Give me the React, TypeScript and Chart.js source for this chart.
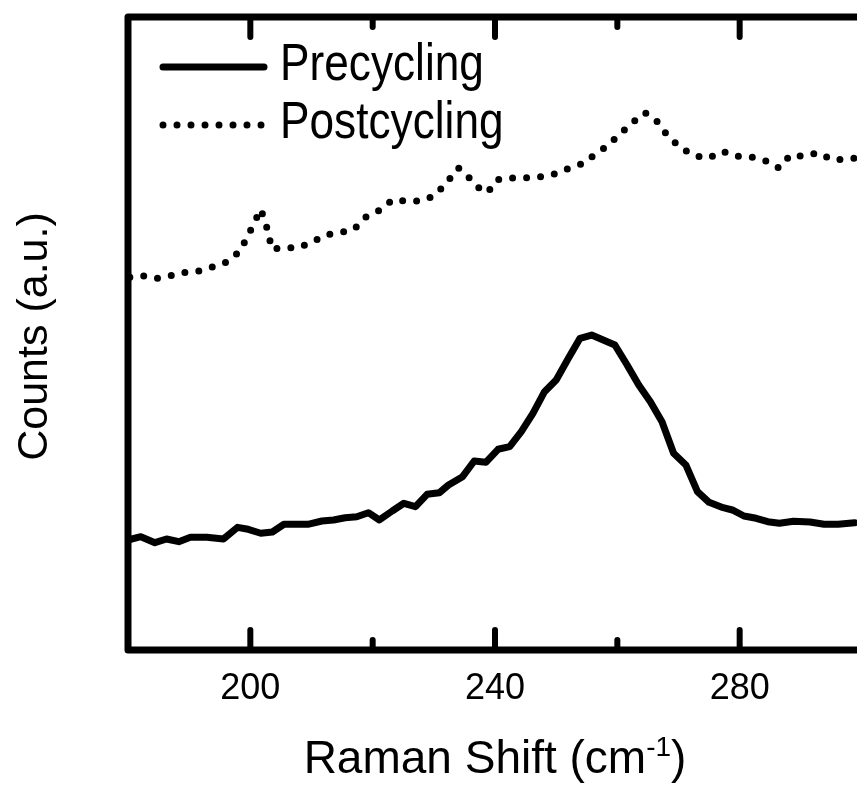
import React, { useEffect, useRef } from "react";
import { Chart, registerables } from "chart.js";

Chart.register(...registerables);

// ---- data (Raman shift in cm^-1, counts in arbitrary units) ----
const preX = [
  180.0, 182.1, 184.4, 186.3, 188.3, 190.2, 192.9, 195.6, 197.9, 199.4,
  201.7, 203.6, 205.5, 209.4, 211.7, 213.6, 215.5, 217.4, 219.3, 221.1,
  223.2, 225.1, 227.0, 228.9, 230.9, 232.4, 234.7, 236.6, 238.5, 240.5,
  242.4, 244.3, 246.2, 248.1, 250.0, 252.0, 253.9, 255.8, 257.7, 259.6,
  261.6, 263.5, 265.4, 267.3, 269.2, 271.2, 273.1, 275.0, 277.3, 278.8,
  280.7, 282.7, 284.6, 286.5, 288.8, 291.5, 293.8, 296.1, 298.8,
];
const preY = [
  173.8, 179.0, 169.5, 175.4, 171.1, 178.0, 178.0, 175.4, 193.8, 191.2,
  184.4, 186.4, 198.6, 198.6, 203.8, 205.4, 209.0, 210.6, 216.9, 205.4,
  219.6, 231.8, 226.4, 246.0, 248.5, 260.7, 273.8, 298.6, 296.5, 317.1,
  321.2, 344.9, 373.9, 408.1, 426.5, 460.8, 492.4, 497.6, 489.7, 481.8,
  450.2, 418.6, 392.3, 360.7, 310.7, 292.3, 250.1, 233.3, 224.8, 221.2,
  211.7, 208.1, 202.7, 200.2, 203.3, 202.2, 198.6, 198.6, 201.1,
];
const postX = [
  180.3, 182.4, 184.7, 187.0, 189.4, 191.6, 194.0, 196.2, 198.2, 199.4,
  200.6, 201.7, 202.4, 203.0, 203.5, 205.4, 207.7, 209.9, 212.4, 214.6,
  216.9, 218.8, 221.0, 223.3, 225.6, 228.0, 230.1, 231.9, 234.0, 235.2,
  237.2, 238.8, 240.2, 242.4, 244.8, 247.3, 249.7, 252.2, 254.6, 256.2,
  258.2, 260.4, 262.5, 264.5, 266.3, 268.0, 270.2, 272.6, 274.9, 277.2,
  279.5, 281.7, 284.1, 286.4, 288.3, 290.6, 292.8, 295.2, 297.4, 299.0,
];
const postY = [
  588.8, 591.3, 587.2, 591.3, 596.7, 598.7, 605.5, 613.0, 629.2, 650.4,
  674.1, 696.2, 677.7, 656.7, 633.0, 635.6, 635.1, 643.4, 656.1, 659.2,
  664.0, 683.6, 694.0, 711.4, 708.8, 709.8, 717.7, 736.2, 761.5, 752.0,
  731.0, 722.4, 742.5, 745.7, 745.7, 747.2, 752.0, 761.5, 769.4, 782.0,
  795.1, 814.7, 833.6, 848.8, 837.3, 815.2, 794.2, 780.9, 776.8, 787.8,
  779.9, 779.3, 773.6, 761.5, 782.0, 779.9, 785.6, 774.1, 775.7, 777.3,
];

const seriesLabels = ["Precycling", "Postcycling"];
const X_MIN = 180;
const X_MAX = 300;
const X_STEP = 20;
const X_LABEL_STEP = 40;
const Y_MIN = 0;
const Y_MAX = 1000;
const xTitleMain = "Raman Shift (cm";
const xTitleSup = "-1";
const xTitleEnd = ")";
const yTitle = "Counts (a.u.)";

const FAMILY = '"Liberation Sans", Arial, Helvetica, sans-serif';
const CANVAS_W = 879;
const CANVAS_H = 787;

const toPoints = (xs: number[], ys: number[]) => xs.map((x, i) => ({ x, y: ys[i] }));

const decorPlugin = {
  id: "decor",
  afterDatasetsDraw(chart: any) {
    const { ctx, chartArea: a, scales } = chart;
    const xs = scales.x;
    ctx.save();
    // frame
    ctx.strokeStyle = "#000";
    ctx.fillStyle = "#000";
    ctx.lineWidth = 7;
    ctx.lineJoin = "round";
    ctx.strokeRect(a.left, a.top, a.right - a.left, a.bottom - a.top);
    // inward tick marks (major + minor), top and bottom
    ctx.lineWidth = 6;
    ctx.lineCap = "round";
    xs.ticks.forEach((t: any) => {
      if (t.value <= X_MIN || t.value >= X_MAX) return;
      const px = xs.getPixelForValue(t.value);
      const len = t.value % X_LABEL_STEP === 0 ? 20 : 10;
      ctx.beginPath();
      ctx.moveTo(px, a.bottom);
      ctx.lineTo(px, a.bottom - len);
      ctx.moveTo(px, a.top);
      ctx.lineTo(px, a.top + len);
      ctx.stroke();
    });
    // legend inside plot
    chart.data.datasets.forEach((ds: any, i: number) => {
      const ly = a.top + 50 + i * 58;
      ctx.save();
      ctx.lineWidth = ds.borderWidth;
      ctx.lineCap = ds.borderCapStyle || "round";
      ctx.setLineDash(ds.borderDash || []);
      ctx.beginPath();
      ctx.moveTo(a.left + 35, ly);
      ctx.lineTo(a.left + 136, ly);
      ctx.stroke();
      ctx.restore();
      ctx.save();
      ctx.translate(a.left + 152, ly + 13);
      ctx.scale(0.85, 1);
      ctx.font = `52px ${FAMILY}`;
      ctx.textAlign = "left";
      ctx.textBaseline = "alphabetic";
      ctx.fillText(ds.label, 0, 0);
      ctx.restore();
    });
    // x title with superscript
    const cx = (a.left + a.right) / 2;
    const base = a.bottom + 123;
    ctx.textBaseline = "alphabetic";
    ctx.textAlign = "left";
    ctx.font = `46px ${FAMILY}`;
    const w1 = ctx.measureText(xTitleMain).width;
    const w3 = ctx.measureText(xTitleEnd).width;
    ctx.font = `28px ${FAMILY}`;
    const w2 = ctx.measureText(xTitleSup).width;
    let x0 = cx - (w1 + w2 + w3) / 2;
    ctx.font = `46px ${FAMILY}`;
    ctx.fillText(xTitleMain, x0, base);
    x0 += w1;
    ctx.font = `28px ${FAMILY}`;
    ctx.fillText(xTitleSup, x0, base - 17);
    x0 += w2;
    ctx.font = `46px ${FAMILY}`;
    ctx.fillText(xTitleEnd, x0, base);
    // y title
    ctx.save();
    ctx.translate(46.5, (a.top + a.bottom) / 2 + 3);
    ctx.rotate(-Math.PI / 2);
    ctx.textAlign = "center";
    ctx.font = `43px ${FAMILY}`;
    ctx.fillText(yTitle, 0, 0);
    ctx.restore();
    ctx.restore();
  },
};

export default function App() {
  const ref = useRef<HTMLCanvasElement | null>(null);
  useEffect(() => {
    if (!ref.current) return;
    const chart = new Chart(ref.current, {
      type: "line",
      data: {
        datasets: [
          {
            label: seriesLabels[0],
            data: toPoints(preX, preY),
            borderColor: "#000",
            borderWidth: 7,
            borderJoinStyle: "round",
            borderCapStyle: "round",
            pointRadius: 0,
            fill: false,
            tension: 0,
          },
          {
            label: seriesLabels[1],
            data: toPoints(postX, postY),
            borderColor: "#000",
            borderWidth: 7,
            borderDash: [0, 14],
            borderCapStyle: "round",
            pointRadius: 0,
            fill: false,
            tension: 0,
          },
        ],
      } as any,
      options: {
        animation: false,
        responsive: false,
        devicePixelRatio: 1,
        layout: { padding: { left: 128, right: 17, top: 17, bottom: 59.8 } },
        plugins: { legend: { display: false }, tooltip: { enabled: false } },
        scales: {
          x: {
            type: "linear",
            min: X_MIN,
            max: X_MAX,
            grid: { display: false, drawTicks: false },
            border: { display: false },
            ticks: {
              stepSize: X_STEP,
              autoSkip: false,
              maxRotation: 0,
              padding: 17,
              color: "#000",
              font: { size: 36, family: FAMILY },
              callback: (v: any) => (Number(v) % X_LABEL_STEP === 0 ? String(v) : ""),
            },
          },
          y: { display: false, min: Y_MIN, max: Y_MAX },
        },
      } as any,
      plugins: [decorPlugin],
    });
    return () => chart.destroy();
  }, []);
  return (
    <div style={{ position: "fixed", left: 0, top: 0, width: 857, height: 787, overflow: "hidden", background: "#fff" }}>
      <canvas ref={ref} width={CANVAS_W} height={CANVAS_H} style={{ display: "block", width: CANVAS_W, height: CANVAS_H }} />
    </div>
  );
}
